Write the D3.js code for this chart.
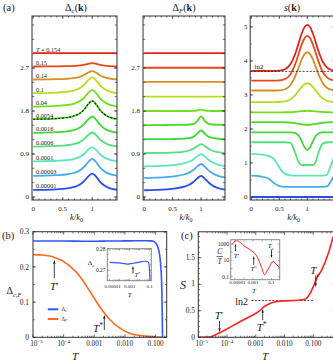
<!DOCTYPE html>
<html>
<head>
<meta charset="utf-8">
<script src="https://cdn.jsdelivr.net/npm/d3@7"></script>
<style>
  body { margin: 0; background: #fff; }
  text { font-family: "Liberation Serif", "DejaVu Serif", serif; fill: #1a1a1a; }
</style>
</head>
<body>
<div id="fig"></div>
<script>
// ---- panel (a): temperatures of the stacked curves, top to bottom
var temps = ["0.154", "0.15", "0.14", "0.1", "0.04", "0.0054", "0.0016", "0.0006", "0.0001", "0.00003", "0.00001"];
var colors = ["#e2231c", "#e9461c", "#d6901e", "#b6de1c", "#70e01e", "#4cdc22", "#3fd93a", "#52e27a", "#5ee6b6", "#46acf0", "#2a4cf0"];
// vertical shift of each curve
var offsets = [3.0, 2.7, 2.4, 2.1, 1.8, 1.5, 1.2, 0.9, 0.6, 0.3, 0];

var kGrid = [0, 0.2, 0.4, 0.55, 0.7, 0.8, 0.87, 0.93, 1.0, 1.07, 1.13, 1.2, 1.3, 1.42];
var gapC = [
  [.01, .01, .01, .01, .01, .01, .01, .01, .01, .01, .01, .01, .01, .01],
  [.031, .032, .034, .037, .044, .055, .070, .087, .100, .086, .066, .051, .038, .032],
  [.059, .060, .066, .073, .091, .120, .158, .203, .235, .199, .149, .109, .077, .060],
  [.072, .075, .085, .099, .133, .187, .259, .344, .405, .337, .242, .167, .106, .075],
  [.092, .096, .106, .121, .156, .213, .287, .376, .440, .369, .270, .192, .128, .096],
  [.128, .132, .143, .159, .198, .260, .342, .440, .510, .432, .323, .237, .167, .132],
  [.142, .146, .156, .170, .205, .261, .335, .422, .485, .415, .317, .240, .177, .146],
  [.156, .159, .168, .180, .210, .258, .321, .396, .450, .390, .306, .240, .186, .159],
  [.146, .149, .158, .170, .200, .248, .311, .386, .440, .380, .296, .230, .176, .149],
  [.142, .146, .157, .171, .207, .265, .340, .430, .495, .423, .322, .243, .178, .146],
  [.147, .151, .161, .175, .210, .266, .340, .427, .490, .420, .322, .245, .182, .151]
];
var gapF = [
  [.01, .01, .01, .01, .01, .01, .01, .01, .01, .01, .01, .01, .01, .01],
  [.005, .005, .005, .005, .005, .005, .005, .005, .005, .005, .005, .005, .005, .005],
  [.01, .01, .01, .01, .01, .01, .01, .01, .01, .01, .01, .01, .01, .01],
  [0, 0, 0, 0, 0, 0, 0, 0, 0, 0, 0, 0, 0, 0],
  [0, 0, 0, 0, 0, 0, .002, .01, .03, .01, .002, 0, 0, 0],
  [.006, .006, .007, .008, .011, .017, .031, .087, .186, .087, .031, .017, .010, .008],
  [.010, .010, .012, .014, .021, .036, .063, .122, .192, .122, .063, .036, .019, .012],
  [.019, .021, .025, .032, .049, .078, .114, .163, .205, .163, .110, .068, .038, .023],
  [.041, .046, .057, .073, .105, .144, .192, .250, .298, .245, .181, .126, .078, .052],
  [.099, .105, .117, .135, .171, .216, .270, .336, .390, .330, .258, .195, .141, .111],
  [.141, .148, .160, .179, .216, .262, .318, .386, .442, .380, .306, .241, .185, .154]
];
var kS = [0, 0.15, 0.3, 0.4, 0.5, 0.6, 0.7, 0.78, 0.85, 0.9, 0.95, 1.0, 1.05, 1.1, 1.15, 1.2, 1.27, 1.35, 1.42, 1.5];
var entK = [
  [.71, .71, .71, .71, .717, .755, .907, 1.189, 1.547, 1.804, 1.993, 2.06, 1.993, 1.804, 1.547, 1.284, .994, .809, .741, .717],
  [.72, .72, .72, .72, .727, .763, .912, 1.187, 1.535, 1.785, 1.969, 2.035, 1.969, 1.785, 1.535, 1.279, .996, .816, .75, .727],
  [.73, .73, .73, .73, .736, .767, .894, 1.13, 1.428, 1.642, 1.8, 1.856, 1.8, 1.642, 1.428, 1.209, .966, .812, .756, .736],
  [.69, .69, .69, .69, .693, .708, .771, .887, 1.033, 1.139, 1.216, 1.244, 1.216, 1.139, 1.033, .925, .806, .73, .703, .693],
  [.69, .69, .69, .69, .69, .691, .696, .704, .715, .722, .728, .73, .728, .722, .715, .707, .698, .693, .69, .69],
  [.7, .7, .7, .7, .7, .697, .688, .672, .65, .635, .624, .62, .624, .635, .65, .666, .683, .694, .698, .7],
  [.7, .7, .7, .7, .7, .7, .699, .682, .591, .44, .263, .18, .263, .44, .591, .668, .697, .7, .7, .7],
  [.71, .71, .71, .71, .71, .71, .69, .408, .107, .04, .04, .04, .04, .04, .14, .408, .656, .71, .71, .71],
  [.665, .65, .61, .52, .27, .08, .035, .027, .026, .026, .026, .026, .026, .026, .026, .026, .027, .05, .33, .66],
  [.326, .31, .25, .12, .02, 0, 0, 0, 0, 0, 0, 0, 0, 0, 0, 0, 0, .01, .16, .42],
  [0, 0, 0, 0, 0, 0, 0, 0, 0, 0, 0, 0, 0, 0, 0, 0, 0, 0, 0, 0]
];
var ln2 = 0.693;

// ---- panel (b): order parameters vs T
var tC = [1e-5, 3e-5, 1e-4, 3e-4, 7e-4, 1.5e-3, 3e-3, 7e-3, 0.015, 0.03, 0.05, 0.07, 0.085, 0.1, 0.12, 0.135, 0.145, 0.155, 0.16, 0.165, 0.168];
var deltaC = [.2737, .2736, .2734, .2731, .2729, .2731, .2734, .2737, .2740, .2742, .2742, .2739, .2730, .2680, .2550, .2350, .2100, .1700, .1300, .0600, 0];
var tF = [1e-5, 2e-5, 3.5e-5, 5e-5, 7.5e-5, 1e-4, 1.6e-4, 3.4e-4, 7.2e-4, 1.5e-3, 3.3e-3, 6.9e-3, 0.0147, 0.031, 0.083, 0.168];
var deltaF = [.235, .234, .231, .227, .221, .215, .202, .173, .130, .087, .049, .026, .011, .005, .0015, 0];

// ---- panel (c): entropy and specific heat vs T
var tS = [1e-5, 2.2e-5, 3.3e-5, 5e-5, 1.1e-4, 2.45e-4, 5.5e-4, 1.23e-3, 2.1e-3, 3.6e-3, 7.9e-3, 0.03, 0.051, 0.077, 0.1, 0.13, 0.196, 0.33, 0.49];
var entS = [0, .003, .025, .075, .17, .275, .377, .483, .59, .653, .685, .698, .717, .83, .955, 1.11, 1.27, 1.58, 1.9];
var tCT = [5e-6, 1.5e-5, 4.3e-5, 1.2e-4, 3.7e-4, 1e-3, 2.1e-3, 3.5e-3, 7.5e-3, 0.019, 0.034, 0.067, 0.155, 0.33, 0.83];
var heatCT = [820, 2540, 1510, 520, 245, 105, 45, 16, 2, 0.17, 0.49, 1.8, 7.6, 3.5, 1.15];
var ln2Span = [7e-4, 0.1];

var svg = d3.select("#fig").append("svg").attr("width", 333).attr("height", 363);
var defs = svg.append("defs");

function addClip(id, x, y) {
  var x0 = d3.min(x.range()), x1 = d3.max(x.range()), y0 = d3.min(y.range()), y1 = d3.max(y.range());
  defs.append("clipPath").attr("id", id).append("rect")
    .attr("x", x0).attr("y", y0).attr("width", x1 - x0).attr("height", y1 - y0);
  return "url(#" + id + ")";
}

function linTicks(a, b, step, len) {
  return d3.range(Math.round((b - a) / step) + 1).map(function (i) { return [a + i * step, len]; });
}
function logTicks(e0, e1) {
  var t = [];
  for (var e = e0; e <= e1; e++) {
    t.push([Math.pow(10, e), 3]);
    for (var m = 2; m < 10; m++) t.push([m * Math.pow(10, e), 1.6]);
  }
  return t;
}

// box with inward ticks on all four sides
function frame(x, y, xt, yt, color, fill) {
  var x0 = d3.min(x.range()), x1 = d3.max(x.range()), y0 = d3.min(y.range()), y1 = d3.max(y.range());
  var g = svg.append("g").attr("stroke", color).attr("stroke-width", 0.7);
  if (fill) g.append("rect").attr("x", x0).attr("y", y0).attr("width", x1 - x0).attr("height", y1 - y0).attr("fill", fill).attr("stroke", "none");
  xt.forEach(function (t) {
    var p = x(t[0]);
    if (p < x0 - 0.1 || p > x1 + 0.1) return;
    g.append("line").attr("x1", p).attr("x2", p).attr("y1", y1).attr("y2", y1 - t[1]);
    g.append("line").attr("x1", p).attr("x2", p).attr("y1", y0).attr("y2", y0 + t[1]);
  });
  yt.forEach(function (t) {
    var p = y(t[0]);
    if (p < y0 - 0.1 || p > y1 + 0.1) return;
    g.append("line").attr("y1", p).attr("y2", p).attr("x1", x0).attr("x2", x0 + t[1]);
    g.append("line").attr("y1", p).attr("y2", p).attr("x1", x1).attr("x2", x1 - t[1]);
  });
  g.append("rect").attr("x", x0).attr("y", y0).attr("width", x1 - x0).attr("height", y1 - y0)
    .attr("fill", "none").attr("stroke-width", 1);
}

function txt(x, y, s, size, anchor, style) {
  return svg.append("text").attr("x", x).attr("y", y).attr("font-size", size)
    .attr("text-anchor", anchor || "middle").attr("font-style", style || null).text(s);
}

// T', T*, Tc style labels
function tLabel(x, y, kind, size) {
  var t = svg.append("text").attr("x", x).attr("y", y).attr("font-size", size).attr("text-anchor", "middle");
  t.append("tspan").attr("font-style", "italic").text("T");
  if (kind === "p") t.append("tspan").text("\u2032");
  if (kind === "s") t.append("tspan").attr("dy", -size * 0.35).attr("font-size", size * 0.7).text("*");
  if (kind === "c") t.append("tspan").attr("dy", size * 0.25).attr("font-size", size * 0.65).attr("font-style", "italic").text("c");
}

function arrow(x, yTail, yHead, w) {
  var dir = yHead < yTail ? 1 : -1;
  var hl = w * 1.6;
  svg.append("line").attr("x1", x).attr("x2", x).attr("y1", yTail).attr("y2", yHead + dir * hl)
    .attr("stroke", "#111").attr("stroke-width", 0.8);
  svg.append("path").attr("d", "M" + x + "," + yHead + "L" + (x - w / 2) + "," + (yHead + dir * hl) + "L" + (x + w / 2) + "," + (yHead + dir * hl) + "Z")
    .attr("fill", "#111");
}

// ================= panel (a) =================
var kx1 = d3.scaleLinear().domain([-0.02, 1.42]).range([32, 117]);
var kx2 = d3.scaleLinear().domain([-0.02, 1.42]).range([143, 225]);
var kx3 = d3.scaleLinear().domain([-0.02, 1.5]).range([250.2, 335.3]);
var gy = d3.scaleLinear().domain([-0.063, 3.788]).range([200, 16]);
var sy = d3.scaleLinear().domain([-0.088, 5.32]).range([200, 16]);

function stack(xs, ys, ks, data, clipId) {
  var line = d3.line().x(function (d, i) { return xs(ks[i]); }).y(function (d) { return ys(d); })
    .curve(d3.curveMonotoneX);
  var g = svg.append("g").attr("clip-path", addClip(clipId, xs, ys));
  g.selectAll("path").data(data).join("path")
    .attr("d", function (d, i) { return line(d.map(function (v) { return v + offsets[i]; })); })
    .attr("fill", "none").attr("stroke", function (d, i) { return colors[i]; })
    .attr("stroke-width", 1.8);
  return line;
}

var kMinor = linTicks(0, 1.4, 0.1, 1.6).concat([[0, 3], [0.5, 3], [1, 3]]);
var gTicks = linTicks(0, 3.6, 0.3, 2.2).concat(linTicks(0, 2.7, 0.9, 3.2));
var sTicks = linTicks(0, 5, 0.5, 1.6).concat(linTicks(0, 5, 1, 3));

var lineC = stack(kx1, gy, kGrid, gapC, "clipA1");
svg.append("path").attr("d", lineC(gapC[5].map(function (v) { return v + offsets[5]; })))
  .attr("fill", "none").attr("stroke", "#111").attr("stroke-width", 1.1).attr("stroke-dasharray", "2,1.6");
stack(kx2, gy, kGrid, gapF, "clipA2");
stack(kx3, sy, kS, entK, "clipA3");

frame(kx1, gy, kMinor, gTicks, "#333");
frame(kx2, gy, kMinor, gTicks, "#333");
frame(kx3, sy, kMinor, sTicks, "#333");

// temperature labels on the first column
temps.forEach(function (t, i) {
  var yb = gy(offsets[i] + gapC[i][0]) - 1.6;
  var el = svg.append("text").attr("x", 36).attr("y", yb).attr("font-size", 6.3);
  if (i === 0) {
    el.append("tspan").attr("font-style", "italic").text("T");
    el.append("tspan").text(" = " + t);
  } else el.text(t);
});

// ln2 guide on the entropy column
svg.append("line").attr("x1", kx3(-0.02)).attr("x2", 333).attr("y1", sy(3 + ln2)).attr("y2", sy(3 + ln2))
  .attr("stroke", "#111").attr("stroke-width", 0.8).attr("stroke-dasharray", "2,1.5");
txt(254.5, 68.8, "ln2", 7, "start");

// tick labels
[[kx1, 29], [kx2, 140]].forEach(function (p) {
  [0, 0.9, 1.8, 2.7].forEach(function (v) { txt(p[1], gy(v) + 2.4, String(v), 7, "end"); });
});
[0, 1, 2, 3, 4, 5].forEach(function (v) { txt(247.5, sy(v) + 2.4, String(v), 7, "end"); });
[kx1, kx2, kx3].forEach(function (xs) {
  [0, 0.5, 1].forEach(function (v) { txt(xs(v), 210.5, String(v), 7); });
  var c = (xs(-0.02) + Math.min(xs.range()[1], 333)) / 2 + 2;
  var t = svg.append("text").attr("x", c).attr("y", 220).attr("font-size", 8.5).attr("text-anchor", "middle");
  t.append("tspan").attr("font-style", "italic").text("k/k");
  t.append("tspan").attr("dy", 2).attr("font-size", 6).text("0");
});

function title(x, s, sub) {
  var t = svg.append("text").attr("x", x).attr("y", 10.5).attr("font-size", 10).attr("text-anchor", "middle");
  if (sub) {
    t.append("tspan").text("\u0394");
    t.append("tspan").attr("dy", 2).attr("font-size", 7).attr("font-style", "italic").text(sub);
    t.append("tspan").attr("dy", -2).text("(");
  } else {
    t.append("tspan").attr("font-style", "italic").text(s);
    t.append("tspan").text("(");
  }
  t.append("tspan").attr("font-weight", "bold").text("k");
  t.append("tspan").text(")");
}
title(76, null, "c");
title(184, null, "F");
title(292, "s", null);
txt(3, 10.5, "(a)", 10.5, "start");

// ================= panel (b) =================
var tx = d3.scaleLog().domain([1e-5, 0.23]).range([33, 166.7]);
var dy = d3.scaleLinear().domain([0, 0.3]).range([337.3, 231.7]);
var lineB = function (ts, vs, xs, ys) {
  return d3.line().x(function (d, i) { return xs(ts[i]); }).y(function (d) { return ys(d); }).curve(d3.curveMonotoneX)(vs);
};
var gB = svg.append("g").attr("clip-path", addClip("clipB", tx, dy));
gB.append("path").attr("d", lineB(tF, deltaF, tx, dy)).attr("fill", "none").attr("stroke", "#ff6a1c").attr("stroke-width", 1.6);
gB.append("path").attr("d", lineB(tC, deltaC, tx, dy)).attr("fill", "none").attr("stroke", "#3256ff").attr("stroke-width", 1.6);
frame(tx, dy, logTicks(-5, -1), linTicks(0, 0.3, 0.05, 1.6).concat(linTicks(0, 0.3, 0.1, 3)), "#333");

[0, 0.1, 0.2, 0.3].forEach(function (v) { txt(29, dy(v) + 2.6, String(v), 7.5, "end"); });
function logLabels(xs, y) {
  [["10", "\u22125"], ["10", "\u22124"], ["0.001"], ["0.010"], ["0.100"]].forEach(function (l, i) {
    var t = svg.append("text").attr("x", xs(Math.pow(10, i - 5)) + (i === 0 ? 3.5 : 0)).attr("y", y).attr("font-size", 7.2).attr("text-anchor", "middle");
    t.append("tspan").text(l[0]);
    if (l[1]) t.append("tspan").attr("dy", -3).attr("font-size", 5).text(l[1]);
  });
}
logLabels(tx, 346);
txt(75, 359.5, "T", 11, "middle", "italic");
var yl = svg.append("text").attr("x", 14).attr("y", 294).attr("font-size", 10).attr("text-anchor", "middle");
yl.append("tspan").text("\u0394");
yl.append("tspan").attr("dy", 2.5).attr("font-size", 6.5).attr("font-style", "italic").text("c,F");
txt(2, 239, "(b)", 10.5, "start");

// legend
svg.append("line").attr("x1", 47.7).attr("x2", 58.3).attr("y1", 309.3).attr("y2", 309.3).attr("stroke", "#3256ff").attr("stroke-width", 2);
svg.append("line").attr("x1", 47.7).attr("x2", 58.3).attr("y1", 319).attr("y2", 319).attr("stroke", "#ff6a1c").attr("stroke-width", 2);
[["c", 309.3], ["F", 319]].forEach(function (l) {
  var t = svg.append("text").attr("x", 61.5).attr("y", l[1] + 1.8).attr("font-size", 5.5);
  t.append("tspan").text("\u0394");
  t.append("tspan").attr("dy", 1.2).attr("font-size", 3.8).attr("font-style", "italic").text(l[0]);
});

tLabel(54.3, 289.5, "p", 11);
arrow(54.3, 278, 260, 2.4);
tLabel(98, 332, "s", 11);
arrow(104.3, 330, 315, 2.4);

// inset of (b)
var ibx = d3.scaleLog().domain([5.75e-6, 0.145]).range([107.3, 151.3]);
var iby = d3.scaleLinear().domain([0.2652, 0.28]).range([280.7, 248.7]);
frame(ibx, iby, logTicks(-5, -1).map(function (t) { return [t[0], t[1] * 0.7]; }), linTicks(0.2675, 0.28, 0.0025, 1.4).concat([[0.27, 2.2], [0.28, 2.2]]), "#8a8a8a", "#fff");
svg.append("g").attr("clip-path", addClip("clipIB", ibx, iby)).append("path")
  .attr("d", lineB(tC, deltaC, ibx, iby)).attr("fill", "none").attr("stroke", "#3256ff").attr("stroke-width", 1.2);
txt(105.5, iby(0.28) + 2, "0.28", 5.5, "end");
txt(105.5, iby(0.27) + 2, "0.27", 5.5, "end");
[[1e-5, "0.00001"], [1e-3, "0.001"], [0.1, "0.1"]].forEach(function (l) { txt(ibx(l[0]) + (l[0] === 1e-5 ? 3 : 0), 288, l[1], 5); });
txt(129.7, 297, "T", 7, "middle", "italic");
var il = svg.append("text").attr("x", 91).attr("y", 265).attr("font-size", 7).attr("text-anchor", "middle");
il.append("tspan").text("\u0394");
il.append("tspan").attr("dy", 1.5).attr("font-size", 4.5).attr("font-style", "italic").text("c");
arrow(133, 273.5, 266, 1.8);
tLabel(137.5, 277, "s", 6.5);

// ================= panel (c) =================
var tx2 = d3.scaleLog().domain([1e-5, 0.6]).range([198.3, 335.7]);
var sy2 = d3.scaleLinear().domain([0, 1.99]).range([337.3, 231.8]);
svg.append("line").attr("x1", tx2(ln2Span[0])).attr("x2", tx2(ln2Span[1])).attr("y1", sy2(ln2)).attr("y2", sy2(ln2))
  .attr("stroke", "#111").attr("stroke-width", 0.8).attr("stroke-dasharray", "2,1.5");
svg.append("g").attr("clip-path", addClip("clipC", tx2, sy2)).append("path")
  .attr("d", lineB(tS, entS, tx2, sy2)).attr("fill", "none").attr("stroke", "#ff2222").attr("stroke-width", 1.6);
frame(tx2, sy2, logTicks(-5, -1), linTicks(0, 1.9, 0.1, 1.6).concat(linTicks(0, 1.5, 0.5, 3)), "#333");
[[0, "0"], [0.5, "0.5"], [1, "1"], [1.5, "1.5"]].forEach(function (l) { txt(195, sy2(l[0]) + 2.2, l[1], 7.5, "end"); });
logLabels(tx2, 346);
txt(265, 359.5, "T", 11, "middle", "italic");
txt(183, 289, "S", 12, "middle", "italic");
txt(181, 239, "(c)", 10.5, "start");
txt(248, 304.5, "ln2", 10, "end");

tLabel(219, 319, "p", 11);
arrow(219.5, 321, 332, 2.4);
tLabel(261.7, 330.5, "s", 11);
arrow(262.7, 320, 309, 2.4);
tLabel(315, 274, "c", 11);
arrow(315.7, 275.5, 287, 2.4);

// inset of (c)
var icx = d3.scaleLog().domain([3.6e-6, 0.83]).range([230.7, 279.7]);
var icy = d3.scaleLog().domain([0.042, 3400]).range([279.7, 239.7]);
frame(icx, icy, [-5, -4, -3, -2, -1].map(function (e) { return [Math.pow(10, e), 2]; }),
  [-1, 0, 1, 2, 3].map(function (e) { return [Math.pow(10, e), 2]; }), "#8a8a8a", "#fff");
svg.append("g").attr("clip-path", addClip("clipIC", icx, icy)).append("path")
  .attr("d", lineB(tCT, heatCT, icx, icy)).attr("fill", "none").attr("stroke", "#ff2222").attr("stroke-width", 1);
[[1000, "1000"], [10, "10"], [0.1, "0.1"]].forEach(function (l) { txt(229, icy(l[0]) + 2, l[1], 5.5, "end"); });
[[1e-5, "0.00001"], [1e-3, "0.001"], [0.1, "0.1"]].forEach(function (l) { txt(icx(l[0]) + (l[0] === 1e-5 ? 2.5 : 0), 284, l[1], 5); });
txt(254, 292.5, "T", 7, "middle", "italic");
txt(219.7, 254, "C", 7.5, "middle", "italic");
svg.append("line").attr("x1", 216.5).attr("x2", 223).attr("y1", 256.5).attr("y2", 256.5).attr("stroke", "#111").attr("stroke-width", 0.6);
txt(219.7, 263.5, "T", 7.5, "middle", "italic");
arrow(235.5, 251, 243.5, 1.8);
tLabel(236.5, 257.5, "p", 7);
arrow(253.7, 265, 256, 1.8);
tLabel(253.7, 271, "s", 7);
tLabel(270.7, 248, "c", 7);
arrow(271.5, 249.5, 258, 1.8);
</script>
</body>
</html>
